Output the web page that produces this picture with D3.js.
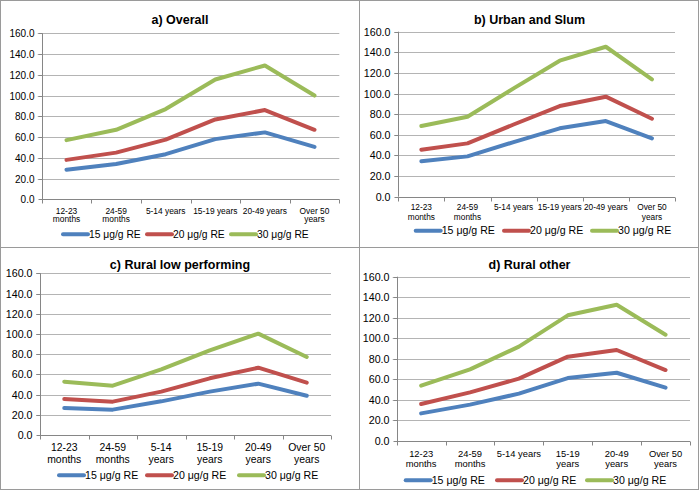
<!DOCTYPE html>
<html>
<head>
<meta charset="utf-8">
<script src="https://cdn.jsdelivr.net/npm/d3@7"></script>
<style>
  html, body { margin: 0; padding: 0; background: #fff; }
  svg { display: block; font-family: "Liberation Sans", Arial, sans-serif; }
</style>
</head>
<body>
<svg id="chart" width="700" height="492"></svg>
<script>
// ---------- DATA ----------
const panelTitles = ["a) Overall", "b) Urban and Slum", "c) Rural low performing", "d) Rural other"];
const seriesNames = ["15 μg/g RE", "20 μg/g RE", "30 μg/g RE"];
const yTicks = [0, 20, 40, 60, 80, 100, 120, 140, 160];

const catsA = [["12-23", "months"], ["24-59", "months"], ["5-14 years"], ["15-19 years"], ["20-49 years"], ["Over 50", "years"]];
const catsB = [["12-23", "months"], ["24-59", "months"], ["5-14 years"], ["15-19 years"], ["20-49 years"], ["Over 50", "years"]];
const catsC = [["12-23", "months"], ["24-59", "months"], ["5-14", "years"], ["15-19", "years"], ["20-49", "years"], ["Over 50", "years"]];
const catsD = [["12-23", "months"], ["24-59", "months"], ["5-14 years"], ["15-19", "years"], ["20-49", "years"], ["Over 50", "years"]];

const overall15 = [28.5, 34, 43.5, 58, 64.5, 50.5];
const overall20 = [38, 45, 57.5, 77, 86, 67];
const overall30 = [57, 67, 87, 115.5, 129, 100];

const urban15 = [34.3, 39.1, 53, 66.3, 73.4, 56.6];
const urban20 = [45.6, 51.7, 70, 87.9, 97, 75.6];
const urban30 = [68.5, 77.6, 105, 131.9, 145.4, 113.8];

const ruralLow15 = [26.7, 25.1, 33.3, 42.9, 50.8, 38.9];
const ruralLow20 = [35.6, 33, 42.9, 56.1, 66.6, 51.8];
const ruralLow30 = [52.8, 48.8, 65, 83.8, 100.3, 77.2];

const ruralOther15 = [26.9, 35.4, 46.1, 61.3, 66.5, 51.9];
const ruralOther20 = [36, 47.4, 60.7, 82.1, 88.6, 69.1];
const ruralOther30 = [53.9, 69.8, 91.9, 122.4, 132.7, 103.5];

const seriesColors = ["#4F81BD", "#C0504D", "#9BBB59"];

// ---------- LAYOUT ----------
const panels = [
  { title: panelTitles[0], cats: catsA, series: [overall15, overall20, overall30],
    left: 41.7, right: 339.3, top: 33.3, bottom: 199.3, tx: 180, ty: 19.3,
    catY: 210.7, catLH: 8.8, catFont: 8.4, yFont: 10, legY: 234.3, legX: [89, 173, 257], legFont: 10.3 },
  { title: panelTitles[1], cats: catsB, series: [urban15, urban20, urban30],
    left: 398.3, right: 675, top: 31.7, bottom: 196.7, tx: 529.5, ty: 19.3,
    catY: 207.3, catLH: 9.4, catFont: 8.3, yFont: 10.7, legY: 230.7, legX: [441.7, 530, 618], legFont: 10.6 },
  { title: panelTitles[2], cats: catsC, series: [ruralLow15, ruralLow20, ruralLow30],
    left: 40, right: 331, top: 273.3, bottom: 435, tx: 180, ty: 265,
    catY: 447.7, catLH: 11.6, catFont: 10.4, yFont: 10.7, legY: 475.3, legX: [85, 173, 265], legFont: 10.6 },
  { title: panelTitles[3], cats: catsD, series: [ruralOther15, ruralOther20, ruralOther30],
    left: 396.7, right: 690, top: 276.7, bottom: 441, tx: 529.5, ty: 264.3,
    catY: 453.3, catLH: 10, catFont: 9.4, yFont: 10.7, legY: 480.3, legX: [431.7, 523, 613], legFont: 10.6 }
];

const svg = d3.select("#chart");

// outer frame and dividers
const frame = svg.append("g").attr("stroke", "#9a9a9a").attr("stroke-width", 1).attr("fill", "none");
frame.append("rect").attr("x", 0.5).attr("y", 0.5).attr("width", 698).attr("height", 489);
frame.append("line").attr("x1", 359.5).attr("x2", 359.5).attr("y1", 0.5).attr("y2", 489.5);
frame.append("line").attr("x1", 0.5).attr("x2", 698.5).attr("y1", 247.5).attr("y2", 247.5);

panels.forEach(p => {
  const g = svg.append("g");
  const catIdx = d3.range(p.cats.length);
  const xBand = d3.scaleBand().domain(catIdx).range([p.left, p.right]);
  const y = d3.scaleLinear().domain([0, 160]).range([p.bottom, p.top]);

  // gridlines
  g.append("g").selectAll("line").data(yTicks.filter(t => t > 0)).join("line")
    .attr("x1", p.left - 4).attr("x2", p.right)
    .attr("y1", d => Math.round(y(d)) + 0.5).attr("y2", d => Math.round(y(d)) + 0.5)
    .attr("stroke", "#b4b4b4").attr("stroke-width", 1);

  // y axis
  const yAxis = d3.axisLeft(y).tickValues(yTicks).tickSize(4).tickPadding(4)
    .tickFormat(d3.format(".1f"));
  const ya = g.append("g").attr("transform", `translate(${Math.round(p.left) + 0.5},0)`).call(yAxis);
  ya.select(".domain").attr("stroke", "#868686").attr("d", `M0,${p.top}V${p.bottom}`);
  ya.selectAll(".tick line").attr("stroke", "#868686");
  ya.selectAll(".tick").attr("transform", d => `translate(0,${Math.round(y(d)) + 0.5})`);
  ya.selectAll(".tick text").attr("fill", "#000").attr("font-size", p.yFont)
    .attr("font-family", "Liberation Sans, Arial, sans-serif");

  // x axis line with boundary ticks
  const bx = g.append("g");
  const yb = Math.round(p.bottom) + 0.5;
  bx.append("line").attr("x1", p.left).attr("x2", p.right).attr("y1", yb).attr("y2", yb)
    .attr("stroke", "#868686");
  const bounds = catIdx.map(i => xBand(i)).concat([p.right]);
  bx.selectAll("line.tk").data(bounds).join("line").attr("class", "tk")
    .attr("x1", d => Math.round(d) + 0.5).attr("x2", d => Math.round(d) + 0.5)
    .attr("y1", yb).attr("y2", yb + 4).attr("stroke", "#868686");

  // category labels
  const cx = i => xBand(i) + xBand.bandwidth() / 2;
  const lab = g.append("g").attr("font-size", p.catFont).attr("text-anchor", "middle").attr("fill", "#000");
  p.cats.forEach((lines, i) => {
    lines.forEach((ln, j) => {
      lab.append("text").attr("x", cx(i)).attr("y", p.catY + j * p.catLH).attr("dy", "0.35em").text(ln);
    });
  });

  // series lines
  const line = d3.line().x((d, i) => cx(i)).y(d => y(d));
  p.series.forEach((vals, k) => {
    g.append("path").datum(vals).attr("d", line)
      .attr("fill", "none").attr("stroke", seriesColors[k]).attr("stroke-width", 4)
      .attr("stroke-linejoin", "round").attr("stroke-linecap", "round");
  });

  // title
  g.append("text").attr("x", p.tx).attr("y", p.ty).attr("dy", "0.35em")
    .attr("text-anchor", "middle").attr("font-weight", "bold").attr("font-size", 12.5)
    .attr("fill", "#000").text(p.title);

  // legend
  seriesNames.forEach((name, k) => {
    const tx = p.legX[k];
    g.append("line").attr("x1", tx - 26).attr("x2", tx - 1).attr("y1", p.legY).attr("y2", p.legY)
      .attr("stroke", seriesColors[k]).attr("stroke-width", 4).attr("stroke-linecap", "round");
    g.append("text").attr("x", tx).attr("y", p.legY).attr("dy", "0.35em")
      .attr("font-size", p.legFont).attr("fill", "#000").text(name);
  });
});
</script>
</body>
</html>
